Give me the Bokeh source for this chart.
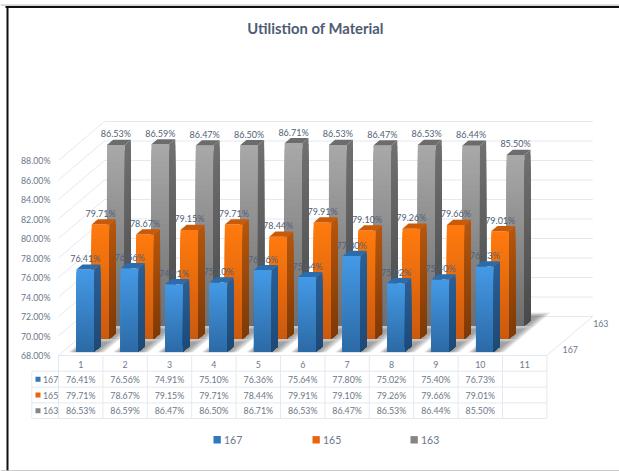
from bokeh.embed import file_html
from bokeh.resources import INLINE
from bokeh.core.properties import value
from bokeh.models import FixedTicker, LinearAxis, PrintfTickFormatter, Range1d
from bokeh.plotting import figure

# Chart content
categories = [1, 2, 3, 4, 5, 6, 7, 8, 9, 10, 11]
series_names = ["167", "165", "163"]
s167 = [76.41, 76.56, 74.91, 75.10, 76.36, 75.64, 77.80, 75.02, 75.40, 76.73]
s165 = [79.71, 78.67, 79.15, 79.71, 78.44, 79.91, 79.10, 79.26, 79.66, 79.01]
s163 = [86.53, 86.59, 86.47, 86.50, 86.71, 86.53, 86.47, 86.53, 86.44, 85.50]
axis_ticks = [68, 70, 72, 74, 76, 78, 80, 82, 84, 86, 88]
title_text = "Utilistion of Material"

W, H = 619, 471
PX_PER_CAT = 44.4
PX_PER_PCT = 9.75
CAT1_PX = 80.2
BASE_PX = 355.0
BASE_PCT = 68.0
ROW_DX = 15.3 / PX_PER_CAT
ROW_DY = 13.0 / PX_PER_PCT
BAR_HALF = 8.9 / PX_PER_CAT
BAR_FRONT, BAR_BACK = 0.3, 0.7
N_ROWS = 3

TEXT = "#6B7789"
VALUE_TEXT = "#515F76"
GRID = "#E4E8F1"
FONT = "Lato"
SMALL = "8.8px"

PALETTE = [
    dict(face=("#4499E5", "#2D6BA7"), side=("#2A5F96", "#1E4A76"), cap="#2B6CAD"),
    dict(face=("#FF7A0E", "#CC5A0E"), side=("#B5560C", "#7E3A07"), cap="#C95B08"),
    dict(face=("#A8A8A8", "#6E6E6E"), side=("#707070", "#4A4A4A"), cap="#6C6C6C"),
]


def cx(px):
    """Horizontal pixel to category coordinate."""
    return 1 + (px - CAT1_PX) / PX_PER_CAT


def vy(px):
    """Vertical pixel to percent coordinate."""
    return BASE_PCT + (BASE_PX - px) / PX_PER_PCT


def proj(cat, row, val):
    """Oblique projection of a (category, depth row, percent) point."""
    return cat + row * ROW_DX, val + row * ROW_DY


def mix(c0, c1, t):
    a = [int(c0[i:i + 2], 16) for i in (1, 3, 5)]
    b = [int(c1[i:i + 2], 16) for i in (1, 3, 5)]
    return "#%02x%02x%02x" % tuple(round(a[k] + (b[k] - a[k]) * t) for k in range(3))


p = figure(
    width=W, height=H, output_backend="svg", toolbar_location=None,
    x_range=Range1d(cx(0), cx(W)), y_range=Range1d(vy(H), vy(0)),
    min_border=0, outline_line_color=None, background_fill_color="white",
    border_fill_color="white", x_axis_type=None, y_axis_type=None,
)
p.xgrid.visible = False
p.ygrid.visible = False

# Page frame
p.segment([cx(0)], [vy(4.6)], [cx(W)], [vy(4.6)], line_color="#B5B5B5", line_width=1)
p.segment([cx(5)], [vy(6.4)], [cx(W)], [vy(6.4)], line_color="#111111", line_width=2)
p.segment([cx(7)], [vy(5.5)], [cx(7)], [vy(470)], line_color="#111111", line_width=2)
p.segment([cx(0)], [vy(470.5)], [cx(W)], [vy(470.5)], line_color="#9A9A9A", line_width=1.2)

# Walls: side-wall diagonals and back-wall lines for each axis tick
left = categories[0] - 0.5
right = categories[-1] + 0.5
xs0, ys0 = [], []
for t in axis_ticks:
    a = proj(left, 0, t)
    b = proj(left, N_ROWS, t)
    c = proj(right, N_ROWS, t)
    xs0.append([a[0], b[0], c[0]])
    ys0.append([a[1], b[1], c[1]])
p.multi_line(xs0, ys0, line_color=GRID, line_width=1)

# Floor outline
corners = [proj(left, 0, BASE_PCT), proj(right, 0, BASE_PCT),
           proj(right, N_ROWS, BASE_PCT)]
p.line([c[0] for c in corners], [c[1] for c in corners], line_color=GRID, line_width=1)

series = [s167, s165, s163]

# Soft floor shadows, nested translucent footprints per bar
for r in range(N_ROWS - 1, -1, -1):
    sx, sy = [], []
    for layer in range(7):
        grow = 1 - layer / 7
        for i in range(len(series[r])):
            c = categories[i]
            x0 = c - BAR_HALF - 0.16 * grow
            x1 = c + BAR_HALF + 0.03 + 0.22 * grow
            d0 = r + BAR_FRONT - 0.05
            d1 = r + BAR_BACK + 0.30 + 0.30 * grow
            pts = [proj(x0, d0, BASE_PCT), proj(x1, d0, BASE_PCT),
                   proj(x1, d1, BASE_PCT), proj(x0, d1, BASE_PCT)]
            sx.append([q[0] for q in pts])
            sy.append([q[1] for q in pts])
    p.patches(sx, sy, fill_color="#3A3A3A", fill_alpha=0.085, line_color=None)

    # Bars in this depth row, gradients painted as nested shrinking layers
    steps = 32
    vals = series[r]
    pal = PALETTE[r]
    lefts, rights, tops, bottoms, colors = [], [], [], [], []
    side_x, side_y, side_c = [], [], []
    cap_x, cap_y = [], []
    for i, v in enumerate(vals):
        c = categories[i]
        fx0 = c - BAR_HALF
        fx1 = c + BAR_HALF
        for s in range(steps):
            t = s / (steps - 1)
            level = v + (BASE_PCT - v) * s / steps
            a = proj(fx0, r + BAR_FRONT, level)
            b = proj(fx1, r + BAR_FRONT, BASE_PCT)
            lefts.append(a[0])
            rights.append(b[0])
            tops.append(a[1])
            bottoms.append(b[1])
            colors.append(mix(pal["face"][0], pal["face"][1], t))
            q = [proj(fx1, r + BAR_FRONT, BASE_PCT), proj(fx1, r + BAR_BACK, BASE_PCT),
                 proj(fx1, r + BAR_BACK, level), proj(fx1, r + BAR_FRONT, level)]
            side_x.append([w[0] for w in q])
            side_y.append([w[1] for w in q])
            side_c.append(mix(pal["side"][0], pal["side"][1], t))
        q = [proj(fx0, r + BAR_FRONT, v), proj(fx1, r + BAR_FRONT, v),
             proj(fx1, r + BAR_BACK, v), proj(fx0, r + BAR_BACK, v)]
        cap_x.append([w[0] for w in q])
        cap_y.append([w[1] for w in q])
    p.quad(left=lefts, right=rights, top=tops, bottom=bottoms,
           fill_color=colors, line_color=None)
    p.patches(side_x, side_y, fill_color=side_c, line_color=None)
    p.patches(cap_x, cap_y, fill_color=pal["cap"], line_color=None)

# Value labels above each bar
lab_x, lab_y, lab_t = [], [], []
for r in range(N_ROWS - 1, -1, -1):
    for i, v in enumerate(series[r]):
        x, y = proj(categories[i], r + BAR_FRONT, v + 11 / PX_PER_PCT)
        lab_x.append(x)
        lab_y.append(y)
        lab_t.append(f"{v:.2f}%")
p.text(lab_x, lab_y, text=lab_t, text_font=value(FONT), text_font_size="9px",
       text_color=VALUE_TEXT, text_align="center", text_baseline="middle")

# Value axis, drawn at the front-left corner of the floor
y_axis = LinearAxis(
    fixed_location=left, ticker=FixedTicker(ticks=axis_ticks),
    formatter=PrintfTickFormatter(format="%.2f%%"), axis_line_color=None,
    major_tick_line_color=None, minor_tick_line_color=None, major_tick_out=0,
    major_label_standoff=8, major_label_text_font=FONT,
    major_label_text_font_size=SMALL, major_label_text_color=TEXT,
)
p.add_layout(y_axis, "left")

# Category axis, forming the header row of the data table
x_axis = LinearAxis(
    fixed_location=BASE_PCT, ticker=FixedTicker(ticks=categories),
    axis_line_color=None, major_tick_line_color=None, minor_tick_line_color=None,
    major_tick_out=0, major_label_standoff=5, major_label_text_font=FONT,
    major_label_text_font_size=SMALL, major_label_text_color=TEXT,
)
p.add_layout(x_axis, "below")

# Data table rules
row_px = [370.7, 386.6, 402.4, 418.0]
key_left = cx(31.3)
p.segment([left], [BASE_PCT], [right], [BASE_PCT], line_color=GRID, line_width=1)
p.segment([key_left] * 4, [vy(y) for y in row_px], [right] * 4, [vy(y) for y in row_px],
          line_color=GRID, line_width=1)
edges = [c - 0.5 for c in categories] + [right]
p.segment(edges, [BASE_PCT] * len(edges), edges, [vy(row_px[-1])] * len(edges),
          line_color=GRID, line_width=1)
p.segment([key_left], [vy(row_px[0])], [key_left], [vy(row_px[-1])],
          line_color=GRID, line_width=1)

# Table cells, series keys and depth-axis names
key_colors = ["#2F77BE", "#E8650F", "#858585"]
for r, name in enumerate(series_names):
    mid = vy((row_px[r] + row_px[r + 1]) / 2)
    p.text([categories[i] for i in range(len(series[r]))], [mid] * len(series[r]),
           text=[f"{v:.2f}%" for v in series[r]], text_font=value(FONT),
           text_font_size=SMALL, text_color=TEXT, text_align="center",
           text_baseline="middle")
    p.quad(left=[cx(35)], right=[cx(40)], top=[mid + 2.5 / PX_PER_PCT],
           bottom=[mid - 2.5 / PX_PER_PCT], fill_color=key_colors[r], line_color=None)
    p.text([cx(42.5)], [mid], text=[name], text_font=value(FONT), text_font_size=SMALL,
           text_color=TEXT, text_align="left", text_baseline="middle")

for r in (0, 2):
    x, y = proj(right, r + 0.5, BASE_PCT)
    p.text([x + 8 / PX_PER_CAT], [y], text=[series_names[r]], text_font=value(FONT),
           text_font_size=SMALL, text_color=TEXT, text_align="left", text_baseline="middle")

# Legend
legend_px = [213, 312, 410]
for r, name in enumerate(series_names):
    x0 = legend_px[r]
    p.quad(left=[cx(x0)], right=[cx(x0 + 7.3)], top=[vy(435.6)], bottom=[vy(443)],
           fill_color=key_colors[r], line_color=None)
    p.text([cx(x0 + 10.5)], [vy(439)], text=[name], text_font=value(FONT),
           text_font_size="10.5px", text_color=TEXT, text_align="left", text_baseline="middle")

# Title
p.text([cx(315)], [vy(27)], text=[title_text], text_font=value(FONT),
       text_font_size="14.8px", text_font_style="bold", text_color="#4E5C74",
       text_align="center", text_baseline="middle")

open("out.html", "w").write(file_html(p, INLINE))
